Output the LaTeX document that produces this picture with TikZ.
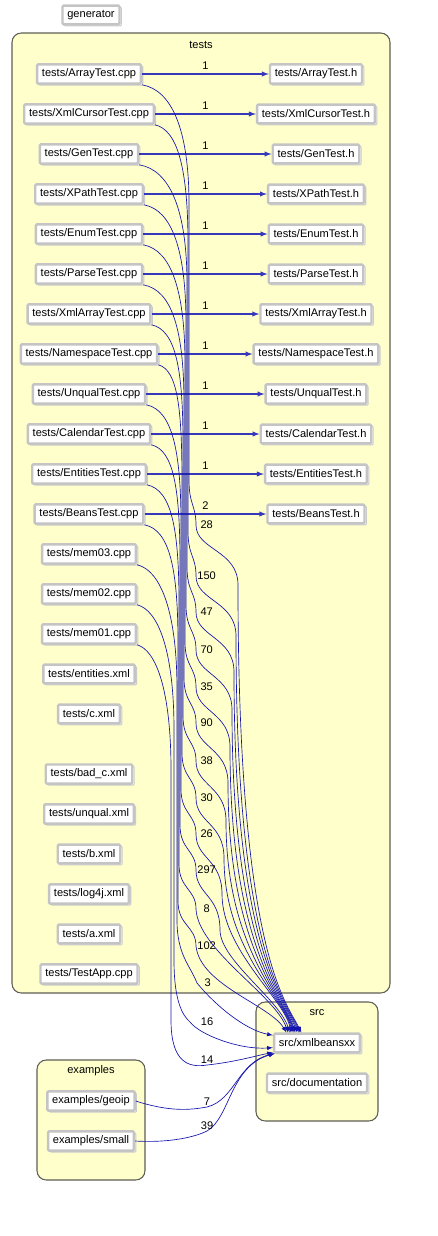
\documentclass[tikz,border=0pt]{standalone}
\usepackage{fontspec}
\setmainfont{Liberation Sans}
\usetikzlibrary{arrows, shadows, positioning}
\definecolor{clusterfill}{RGB}{255,255,204}
\definecolor{clusterline}{RGB}{95,95,85}
\definecolor{boxgray}{RGB}{196,196,196}
\definecolor{edgeblue}{RGB}{20,20,175}
\tikzstyle{cluster} = [rectangle, rounded corners=7pt, draw=clusterline, line width=0.8pt, fill=clusterfill]
\tikzstyle{file} = [rectangle, rounded corners=0.8pt, draw=boxgray, line width=1.8pt, fill=white, inner xsep=3.6pt, minimum height=14pt, text centered, copy shadow={shadow xshift=1.4pt, shadow yshift=-1.2pt, draw=boxgray!90, fill=white, line width=0.8pt}]
\tikzstyle{arrow} = [->, >=latex, draw=edgeblue, line width=0.5pt]
\tikzstyle{harrow} = [->, >=latex, draw=edgeblue!85, line width=0.8pt]
\tikzstyle{lbl} = [inner sep=1pt, xshift=8pt]

\begin{document}
\begin{tikzpicture}[x=0.75pt, y=-0.75pt, node distance=30pt, font=\fontsize{8.3}{10}\selectfont]
\useasboundingbox (0,0) rectangle (438,1236);

% clusters
\node (testsbox) [cluster, minimum width=283.5pt, minimum height=720pt] at (201,513) {};
\node (teststitle) at (201,45) {tests};
\node (srcbox) [cluster, minimum width=91.5pt, minimum height=89.25pt] at (317,1061.5) {};
\node (srctitle) at (317,1013) {src};
\node (exbox) [cluster, minimum width=81pt, minimum height=90pt] at (91,1120) {};
\node (extitle) at (91,1071) {examples};

\node (generator) [file] at (91,15) {generator};

% tests, left column
\node (arraycpp) [file] at (89,74) {tests/ArrayTest.cpp};
\node (cursorcpp) [file, below of=arraycpp] {tests/XmlCursorTest.cpp};
\node (gencpp) [file, below of=cursorcpp] {tests/GenTest.cpp};
\node (xpathcpp) [file, below of=gencpp] {tests/XPathTest.cpp};
\node (enumcpp) [file, below of=xpathcpp] {tests/EnumTest.cpp};
\node (parsecpp) [file, below of=enumcpp] {tests/ParseTest.cpp};
\node (xmlarraycpp) [file, below of=parsecpp] {tests/XmlArrayTest.cpp};
\node (nscpp) [file, below of=xmlarraycpp] {tests/NamespaceTest.cpp};
\node (unqualcpp) [file, below of=nscpp] {tests/UnqualTest.cpp};
\node (calcpp) [file, below of=unqualcpp] {tests/CalendarTest.cpp};
\node (entcpp) [file, below of=calcpp] {tests/EntitiesTest.cpp};
\node (beanscpp) [file, below of=entcpp] {tests/BeansTest.cpp};
\node (memthree) [file, below of=beanscpp] {tests/mem03.cpp};
\node (memtwo) [file, below of=memthree] {tests/mem02.cpp};
\node (memone) [file, below of=memtwo] {tests/mem01.cpp};
\node (entxml) [file, below of=memone] {tests/entities.xml};
\node (cxml) [file, below of=entxml] {tests/c.xml};
\node (badcxml) [file, below of=cxml, yshift=-15pt] {tests/bad\_c.xml};
\node (unqualxml) [file, below of=badcxml] {tests/unqual.xml};
\node (bxml) [file, below of=unqualxml] {tests/b.xml};
\node (logxml) [file, below of=bxml] {tests/log4j.xml};
\node (axml) [file, below of=logxml] {tests/a.xml};
\node (testapp) [file, below of=axml] {tests/TestApp.cpp};

% tests, headers
\node (arrayh) [file, right of=arraycpp, xshift=140.25pt] {tests/ArrayTest.h};
\node (cursorh) [file, right of=cursorcpp, xshift=140.25pt] {tests/XmlCursorTest.h};
\node (genh) [file, right of=gencpp, xshift=140.25pt] {tests/GenTest.h};
\node (xpathh) [file, right of=xpathcpp, xshift=140.25pt] {tests/XPathTest.h};
\node (enumh) [file, right of=enumcpp, xshift=140.25pt] {tests/EnumTest.h};
\node (parseh) [file, right of=parsecpp, xshift=140.25pt] {tests/ParseTest.h};
\node (xmlarrayh) [file, right of=xmlarraycpp, xshift=140.25pt] {tests/XmlArrayTest.h};
\node (nsh) [file, right of=nscpp, xshift=140.25pt] {tests/NamespaceTest.h};
\node (unqualh) [file, right of=unqualcpp, xshift=140.25pt] {tests/UnqualTest.h};
\node (calh) [file, right of=calcpp, xshift=140.25pt] {tests/CalendarTest.h};
\node (enth) [file, right of=entcpp, xshift=140.25pt] {tests/EntitiesTest.h};
\node (beansh) [file, right of=beanscpp, xshift=140.25pt] {tests/BeansTest.h};

% src and examples
\node (xmlbeans) [file] at (317,1043) {src/xmlbeansxx};
\node (docs) [file, below of=xmlbeans] {src/documentation};
\node (geoip) [file] at (91,1101) {examples/geoip};
\node (small) [file, below of=geoip] {examples/small};

\draw [harrow] (arraycpp) -- node[anchor=south] {1} (arrayh);
\draw [harrow] (cursorcpp) -- node[anchor=south] {1} (cursorh);
\draw [harrow] (gencpp) -- node[anchor=south] {1} (genh);
\draw [harrow] (xpathcpp) -- node[anchor=south] {1} (xpathh);
\draw [harrow] (enumcpp) -- node[anchor=south] {1} (enumh);
\draw [harrow] (parsecpp) -- node[anchor=south] {1} (parseh);
\draw [harrow] (xmlarraycpp) -- node[anchor=south] {1} (xmlarrayh);
\draw [harrow] (nscpp) -- node[anchor=south] {1} (nsh);
\draw [harrow] (unqualcpp) -- node[anchor=south] {1} (unqualh);
\draw [harrow] (calcpp) -- node[anchor=south] {1} (calh);
\draw [harrow] (entcpp) -- node[anchor=south] {1} (enth);
\draw [harrow] (beanscpp) -- node[anchor=south] {2} (beansh);

\draw [arrow] (arraycpp.south east) .. controls (172,90) and (189,130) .. (189,204) -- (189,480) .. controls (189,505) and (196,505) .. (196,525) node[lbl] {28} .. controls (196,550) and (238,550) .. (238,585) .. controls (238,950) and (285,1000) .. (xmlbeans.146);
\draw [arrow] (cursorcpp.south east) .. controls (178,130) and (188,170) .. (188,244) -- (188,531) .. controls (188,556) and (196,556) .. (196,576) node[lbl] {150} .. controls (196,601) and (236,601) .. (236,636) .. controls (236,950) and (285,1000) .. (xmlbeans.148);
\draw [arrow] (gencpp.south east) .. controls (170,170) and (187,210) .. (187,284) -- (187,567) .. controls (187,592) and (196,592) .. (196,612) node[lbl] {47} .. controls (196,637) and (234,637) .. (234,672) .. controls (234,950) and (285,1000) .. (xmlbeans.150);
\draw [arrow] (xpathcpp.south east) .. controls (172,210) and (186,250) .. (186,324) -- (186,605) .. controls (186,630) and (196,630) .. (196,650) node[lbl] {70} .. controls (196,675) and (232,675) .. (232,710) .. controls (232,950) and (285,1000) .. (xmlbeans.152);
\draw [arrow] (enumcpp.south east) .. controls (171,250) and (185,290) .. (185,364) -- (185,642) .. controls (185,667) and (196,667) .. (196,687) node[lbl] {35} .. controls (196,712) and (230,712) .. (230,747) .. controls (230,950) and (285,1000) .. (xmlbeans.154);
\draw [arrow] (parsecpp.south east) .. controls (172,290) and (184,330) .. (184,404) -- (184,678) .. controls (184,703) and (196,703) .. (196,723) node[lbl] {90} .. controls (196,748) and (228,748) .. (228,783) .. controls (228,950) and (285,1000) .. (xmlbeans.155);
\draw [arrow] (xmlarraycpp.south east) .. controls (176,330) and (183,370) .. (183,444) -- (183,716) .. controls (183,741) and (196,741) .. (196,761) node[lbl] {38} .. controls (196,786) and (226,786) .. (226,821) .. controls (226,950) and (285,1000) .. (xmlbeans.156);
\draw [arrow] (nscpp.south east) .. controls (178,370) and (182,410) .. (182,484) -- (182,753) .. controls (182,778) and (196,778) .. (196,798) node[lbl] {30} .. controls (196,823) and (224,823) .. (224,858) .. controls (224,950) and (285,1000) .. (xmlbeans.157);
\draw [arrow] (unqualcpp.south east) .. controls (172,410) and (181,450) .. (181,524) -- (181,789) .. controls (181,814) and (196,814) .. (196,834) node[lbl] {26} .. controls (196,859) and (222,859) .. (222,894) .. controls (222,950) and (285,1000) .. (xmlbeans.158);
\draw [arrow] (calcpp.south east) .. controls (174,450) and (180,490) .. (180,564) -- (180,825) .. controls (180,850) and (196,850) .. (196,870) node[lbl] {297} .. controls (196,895) and (220,895) .. (220,930) .. controls (220,960) and (280,1000) .. (xmlbeans.159);
\draw [arrow] (entcpp.south east) .. controls (172,490) and (179,530) .. (179,604) -- (179,864) .. controls (179,889) and (196,889) .. (196,909) node[lbl] {8} .. controls (198,950) and (275,995) .. (xmlbeans.160);
\draw [arrow] (beanscpp.south east) .. controls (170,530) and (178,570) .. (178,644) -- (178,901) .. controls (178,926) and (196,926) .. (196,946) node[lbl] {102} .. controls (200,985) and (270,1005) .. (xmlbeans.161);
\draw [arrow] (memthree.south east) .. controls (160,570) and (177,610) .. (177,690) -- (177,920) .. controls (177,955) and (190,965) .. (197,983) node[lbl] {3} .. controls (215,1005) and (245,1030) .. (xmlbeans.170);
\draw [arrow] (memtwo.south east) .. controls (158,610) and (174,650) .. (174,730) -- (174,960) .. controls (174,1000) and (182,1015) .. (190,1022) node[lbl, xshift=4.75pt] {16} .. controls (200,1035) and (240,1050) .. (xmlbeans.186);
\draw [arrow] (memone.south east) .. controls (156,650) and (171,690) .. (171,770) -- (171,1020) .. controls (171,1062) and (188,1068) .. (207,1065) node[lbl, xshift=-8pt, anchor=south] {14} .. controls (235,1062) and (255,1056) .. (xmlbeans.192);
\draw [arrow] (geoip.east) .. controls (170,1112) and (190,1110) .. (207,1107) node[lbl, xshift=-8pt, anchor=south] {7} .. controls (235,1100) and (238,1062) .. (xmlbeans.194);
\draw [arrow] (small.east) .. controls (170,1143) and (195,1137) .. (207,1131) node[lbl, xshift=-8pt, anchor=south] {39} .. controls (230,1118) and (230,1066) .. (xmlbeans.194);

\end{tikzpicture}
\end{document}
